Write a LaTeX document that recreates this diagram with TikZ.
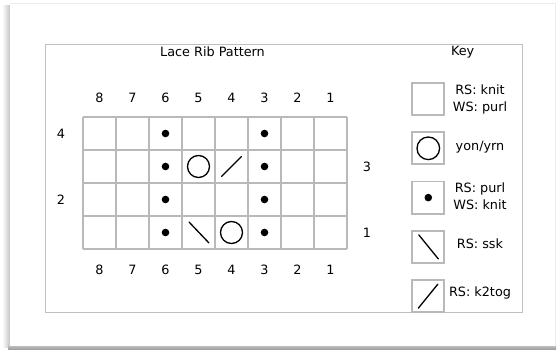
\documentclass[tikz,border=0pt]{standalone}
\usepackage{fontspec}
\setmainfont{DejaVu Sans}
\usetikzlibrary{positioning}

\tikzset{
  txt/.style = {font = \fontsize{12.8}{17}\selectfont, inner sep = 0pt},
  cellline/.style = {draw = gray!55, line width = 1.4pt},
  keybox/.style = {draw = gray!55, line width = 1.8pt, minimum size = 32pt, inner sep = 0pt},
  stitch/.style = {line width = 1.3pt, line cap = round},
}

\begin{document}
\begin{tikzpicture}[x = 1pt, y = -1pt]
    \useasboundingbox (0,0) rectangle (557,350);

    % panel with its shadow
    \shade[left color = white, right color = gray!45] (2,6) rectangle (10,347);
    \shade[top color = gray!45, bottom color = gray!80] (8,345) rectangle (556,350);
    \fill[white] (10,3) rectangle (555,346);
    \draw[gray!15] (10,3) -- (555,3) -- (555,346);
    \draw[gray!50, line width = 0.9pt] (45,44) rectangle (522,312);

    \node[txt] (title) at (212.5,52) {Lace Rib Pattern};
    \node[txt] (keytitle) at (462.7,52) {Key};

    % chart grid
    \begin{scope}
        \foreach \c in {0,...,8}
            \draw[cellline] ({83+33*\c},117) -- ({83+33*\c},249);
        \foreach \r in {0,...,4}
            \draw[cellline] (83,{117+33*\r}) -- (347,{117+33*\r});

        \foreach \k in {1,...,8} {
            \node[txt] (top\k) at ({363.5-33*\k},98) {\k};
            \node[txt] (bot\k) at ({363.5-33*\k},270) {\k};
        }
        \node[txt] (row4) at (61,133.5) {4};
        \node[txt] (row2) at (61,199.5) {2};
        \node[txt] (row3) at (367,166.5) {3};
        \node[txt] (row1) at (367,232.5) {1};

        % purl dots
        \foreach \k in {6,3}
            \foreach \r in {1,...,4}
                \fill ({363.5-33*\k},{265.5-33*\r}) circle (3.8);

        % yarn overs and decreases
        \draw[stitch] (198.5,166.5) circle (11);
        \draw[stitch] (231.5,232.5) circle (11);
        \draw[stitch] (221.5,176.5) -- (241.5,156.5);
        \draw[stitch] (189,222) -- (209,243);
    \end{scope}

    % key
    \begin{scope}
        \node[keybox] (knit) at (428.3,99) {};
        \node[keybox, below = 15.5pt of knit] (yon) {};
        \node[keybox, below = 15.5pt of yon] (purl) {};
        \node[keybox, below = 15.5pt of purl] (ssk) {};
        \node[keybox, below = 15.5pt of ssk] (ktog) {};

        \draw[stitch] (yon) circle (11.3);
        \fill (purl) circle (3.8);
        \draw[stitch] ([shift = {(-9.5,-12)}]ssk.center) -- ([shift = {(10,12)}]ssk.center);
        \draw[stitch] ([shift = {(-10,12)}]ktog.center) -- ([shift = {(9.5,-12)}]ktog.center);

        \node[txt, align = center] (knittxt) at (480,99) {RS: knit\\WS: purl};
        \node[txt] (yontxt) at (480,147.5) {yon/yrn};
        \node[txt, align = center] (purltxt) at (480,196) {RS: purl\\WS: knit};
        \node[txt] (ssktxt) at (480,244) {RS: ssk};
        \node[txt] (ktogtxt) at (480,292.5) {RS: k2tog};
    \end{scope}
\end{tikzpicture}
\end{document}
